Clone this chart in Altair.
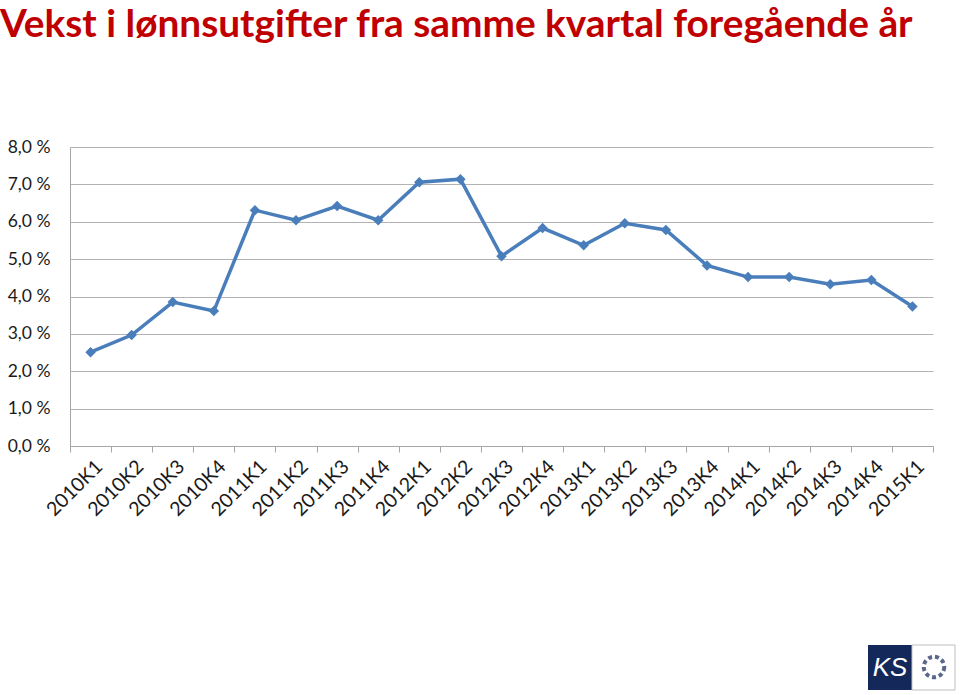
import altair as alt
import pandas as pd

quarters = ["2010K1", "2010K2", "2010K3", "2010K4",
            "2011K1", "2011K2", "2011K3", "2011K4",
            "2012K1", "2012K2", "2012K3", "2012K4",
            "2013K1", "2013K2", "2013K3", "2013K4",
            "2014K1", "2014K2", "2014K3", "2014K4",
            "2015K1"]
growth = [2.51, 2.97, 3.85, 3.61,
          6.31, 6.04, 6.42, 6.04,
          7.06, 7.14, 5.08, 5.83,
          5.37, 5.96, 5.78, 4.83,
          4.52, 4.52, 4.33, 4.44,
          3.73]

title_text = "Vekst i lønnsutgifter fra samme kvartal foregående år"

df = pd.DataFrame({"kvartal": quarters, "vekst": growth})

W, H = 863, 299
FONT = "Lato"

x_enc = alt.X(
    "kvartal:N", sort=quarters,
    scale=alt.Scale(paddingInner=0, paddingOuter=0),
    axis=alt.Axis(
        title=None, labelAngle=-45, labelAlign="right", labelBaseline="top",
        labelFontSize=19.5, labelFont=FONT, labelColor="#1a1a1a",
        labelPadding=5, tickBand="extent", ticks=True, tickSize=6,
        tickColor="#a6a6a6", domainColor="#a6a6a6", grid=False,
        labelOverlap=False, labelOffset=2,
    ),
)
y_enc = alt.Y(
    "vekst:Q",
    scale=alt.Scale(domain=[0, 8], nice=False),
    axis=alt.Axis(
        title=None, values=[0, 1, 2, 3, 4, 5, 6, 7, 8],
        labelExpr="replace(format(datum.value, '.1f'), '.', ',') + ' %'",
        labelFontSize=17.5, labelFont=FONT, labelColor="#1a1a1a",
        labelPadding=20, ticks=False, domainColor="#a6a6a6",
        gridColor="#b3b3b3", gridWidth=1.2,
    ),
)

line = alt.Chart(df).mark_line(
    color="#4a7ebb", strokeWidth=3.5,
    point=alt.OverlayMarkDef(shape="diamond", size=110, color="#4a7ebb", filled=True, opacity=1),
).encode(x=x_enc, y=y_enc)

logo_df = pd.DataFrame({"k": [0]})
logo_box = alt.Chart(logo_df).mark_rect(color="#14285a").encode(
    x=alt.value(798), x2=alt.value(842), y=alt.value(498), y2=alt.value(543))
logo_box2 = alt.Chart(logo_df).mark_rect(fill="white", stroke="#bfbfbf", strokeWidth=1).encode(
    x=alt.value(842), x2=alt.value(885), y=alt.value(498), y2=alt.value(543))
logo_text = alt.Chart(logo_df).mark_text(
    text="KS", color="white", fontSize=26, font="Liberation Sans", fontStyle="italic",
    align="center", baseline="middle").encode(x=alt.value(820), y=alt.value(521))
logo_ring = alt.Chart(logo_df).mark_point(
    shape="circle", size=420, stroke="#14285a", strokeWidth=4, strokeDash=[4, 3], filled=False).encode(
    x=alt.value(864), y=alt.value(520))

chart = alt.layer(line, logo_box, logo_box2, logo_text, logo_ring).properties(
    width=W, height=H,
    background="white",
    padding={"left": 70, "top": 147, "right": 27, "bottom": 249},
    autosize=alt.AutoSizeParams(type="none"),
    title=alt.TitleParams(
        text=title_text, anchor="start", frame="group", dx=-70, dy=-89,
        font=FONT, fontSize=38.8, fontWeight="bold", color="#c00000",
    ),
).configure_view(stroke=None, strokeWidth=0)

chart.save("out.html", embed_options={"renderer": "svg", "actions": False})
